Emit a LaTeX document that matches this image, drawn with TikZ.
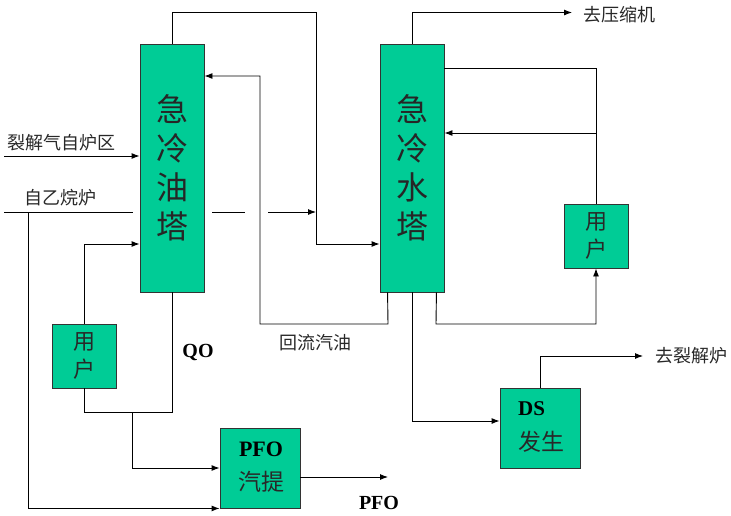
\documentclass[tikz,border=0pt]{standalone}
\usepackage{fontspec}
\setmainfont{Liberation Serif}
\newfontfamily\cjk{Noto Sans CJK SC}
\usetikzlibrary{arrows.meta}
\definecolor{boxgreen}{RGB}{0,204,150}
\definecolor{txtgray}{RGB}{40,40,40}
\tikzset{
  line/.style={line width=0.9pt, black},
  arr/.style={line, -{Latex[length=8pt,width=6pt]}},
  unit/.style={draw=black!80, line width=0.9pt, fill=boxgreen, inner sep=0pt},
  tower/.style={unit, minimum width=64pt, minimum height=248pt},
  small/.style={unit, minimum width=64pt, minimum height=64pt},
  big/.style={unit, minimum width=80pt, minimum height=80pt},
  lbl/.style={font=\cjk\fontsize{18}{20}\selectfont, text=txtgray, inner sep=0pt},
  blbl/.style={font=\bfseries\fontsize{20}{22}\selectfont, text=black, inner sep=0pt}
}
\begin{document}
\begin{tikzpicture}[x=1pt,y=-1pt]
\useasboundingbox (0,0) rectangle (731,515);
% units
\node[tower] (oil) at (172,168) {};
\node[tower] (water) at (412,168) {};
\node[small] (u1) at (84,356) {};
\node[small] (u2) at (596,236) {};
\node[big] (pfo) at (260,468) {};
\node[big] (ds) at (540,428) {};
% unit texts
\node[align=center, font=\cjk\fontsize{32}{39}\selectfont, text=black!85] (oiltxt) at (oil.center) {急\\冷\\油\\塔};
\node[align=center, font=\cjk\fontsize{32}{39}\selectfont, text=black!85] (watertxt) at (water.center) {急\\冷\\水\\塔};
\node[align=center, font=\cjk\fontsize{22}{28}\selectfont, text=txtgray] (u1txt) at (u1.center) {用\\户};
\node[align=center, font=\cjk\fontsize{22}{28}\selectfont, text=txtgray] (u2txt) at (u2.center) {用\\户};
\node[font=\bfseries\fontsize{22}{24}\selectfont, inner sep=0pt] (pfot1) at (261,449) {PFO};
\node[font=\cjk\fontsize{23}{25}\selectfont, text=txtgray, inner sep=0pt] (pfot2) at (261,482) {汽提};
\node[font=\bfseries\fontsize{21}{24}\selectfont, inner sep=0pt, anchor=west] (dst1) at (518,409) {DS};
\node[font=\cjk\fontsize{23}{25}\selectfont, text=txtgray, inner sep=0pt, anchor=west] (dst2) at (518,442) {发生};
% labels
\node[lbl] (l1) at (62,143) {裂解气自炉区};
\node[lbl] (l2) at (60,198) {自乙烷炉};
\node[lbl] (l3) at (315,343) {回流汽油};
\node[lbl] (l4) at (619,15) {去压缩机};
\node[lbl] (l5) at (691,356) {去裂解炉};
\node[blbl] (l6) at (198,352) {QO};
\node[blbl] (l7) at (379,503) {PFO};
% free ends
\coordinate (in1) at (4,156);
\coordinate (in2) at (4,212);
\coordinate (toComp) at (572,12.5);
\coordinate (toFurn) at (643,356);
\coordinate (pfoOut) at (388,477);
% connectors
\draw[arr] (in1) -- (oil.west |- in1);
\draw[line] (in2) -- (133,212);
\draw[line] (212,212) -- (245,212);
\draw[arr] (268,212) -- (316,212);
\draw[arr] (oil.north) -- (172,12.5) -| (316,244) -- ([yshift=-76pt]water.west);
\draw[arr] (28,212) |- (pfo.south west);
\draw[arr] (u1.north) |- ([yshift=-76pt]oil.west);
\draw[arr] ([xshift=8pt]water.south west) -- (388,324) -| (260,76) -- ([yshift=92pt]oil.east);
\draw[line] (oil.south) -- (172,412) -| (u1.south);
\draw[arr] (132,412) |- (pfo.west);
\draw[arr] ([yshift=-9pt]pfo.east) -- (pfoOut);
\draw[arr] (water.north) |- (toComp);
\draw[line] ([yshift=100pt]water.east) -| (u2.north);
\draw[arr] (596,133) -- ([yshift=35pt]water.east);
\draw[arr] ([xshift=-8pt]water.south east) -- (436,324) -| (u2.south);
\draw[arr] (water.south) |- ([yshift=7pt]ds.west);
\draw[arr] (ds.north) |- (toFurn);
\end{tikzpicture}
\end{document}
